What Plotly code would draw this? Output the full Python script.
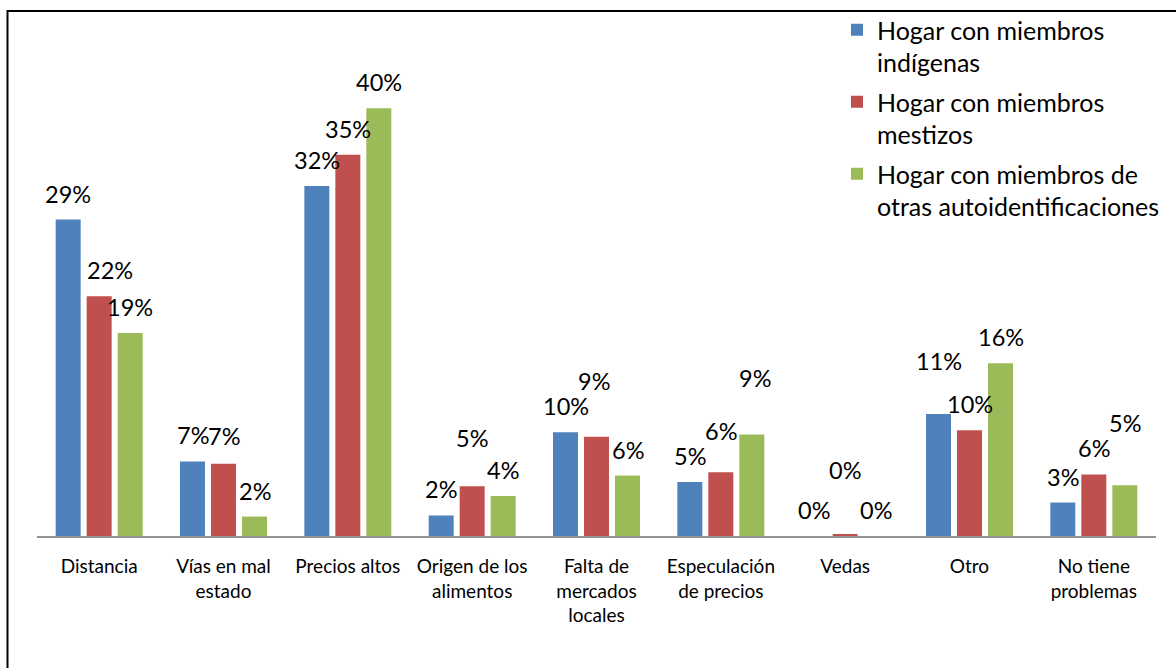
import plotly.graph_objects as go

# Problem categories (x axis)
categorias = [
    "Distancia",
    "Vías en mal<br>estado",
    "Precios altos",
    "Origen de los<br>alimentos",
    "Falta de<br>mercados<br>locales",
    "Especulación<br>de precios",
    "Vedas",
    "Otro",
    "No tiene<br>problemas",
]

# Series names
serie_indigenas = "Hogar con miembros<br>indígenas"
serie_mestizos = "Hogar con miembros<br>mestizos"
serie_otras = "Hogar con miembros de<br>otras autoidentificaciones"

# Percent of households per problem
indigenas = [29.3, 6.9, 32.4, 1.9, 9.6, 5.0, 0.0, 11.3, 3.1]
mestizos = [22.2, 6.7, 35.3, 4.6, 9.2, 5.9, 0.1, 9.8, 5.7]
otras = [18.8, 1.8, 39.6, 3.7, 5.6, 9.4, 0.0, 16.0, 4.7]

# Extra nudges (pixels) for data labels that sit away from their bar
nudge_up = [
    [0, 0, 0, 0, 0, 0, 0, 27, 0],
    [0, 1.5, 0, 22.5, 29.5, 15, 38.5, 0, 0],
    [0, 0, 0, 0, 0, 30, 0, 0, 36.7],
]
nudge_right = [
    [0, 0, 0, 0, 0, 0, 0, 0, 0],
    [10.5, 0, 0, 0, -3, 0, 0, 0, 0],
    [0, 0, 0, 0, 0, 3, 0, 0, 0],
]

colores = ["#4F81BD", "#C0504D", "#9BBB59"]
FONT = "Lato"

series = [(serie_indigenas, indigenas), (serie_mestizos, mestizos), (serie_otras, otras)]

fig = go.Figure()
for i, (nombre, vals) in enumerate(series):
    fig.add_trace(go.Bar(
        x=categorias, y=vals, name=nombre,
        marker=dict(color=colores[i], line=dict(width=0)),
        legendgroup=str(i),
    ))

# Data labels
slot = 31  # px between neighbouring bars in a group
annotations = []
for i, (nombre, vals) in enumerate(series):
    for j, v in enumerate(vals):
        annotations.append(dict(
            x=categorias[j], y=v, xref="x", yref="y",
            text=f"{v:.0f}%", showarrow=False,
            xanchor="center", yanchor="middle",
            xshift=(i - 1) * slot + nudge_right[i][j],
            yshift=26 + nudge_up[i][j],
            font=dict(family=FONT, size=23.5, color="#000000"),
        ))

# Outer frame
shapes = [dict(
    type="rect", xref="paper", yref="paper",
    x0=(7.5 - 37) / 1119, x1=(1190 - 37) / 1119,
    y0=(536 - 690) / 486, y1=(536 - 11) / 486,
    line=dict(color="#000000", width=2), fillcolor="rgba(0,0,0,0)",
    layer="above",
)]

fig.update_layout(
    width=1176, height=668,
    margin=dict(l=37, r=20, t=50, b=132, autoexpand=False),
    paper_bgcolor="white", plot_bgcolor="white",
    barmode="group", bargap=0.252, bargroupgap=0.194,
    font=dict(family=FONT, color="#000000"),
    showlegend=True,
    legend=dict(
        x=(837 - 37) / 1119, y=(536 - 7) / 486,
        xanchor="left", yanchor="top",
        font=dict(family=FONT, size=25, color="#000000"),
        valign="top", tracegroupgap=4,
        bgcolor="rgba(0,0,0,0)",
    ),
    xaxis=dict(
        showline=True, linecolor="#939393", linewidth=2,
        ticks="", showgrid=False, zeroline=False,
        ticklabelstandoff=12, automargin=False,
        tickfont=dict(family=FONT, size=19, color="#000000"),
    ),
    yaxis=dict(
        range=[0, 45], visible=False, showgrid=False, zeroline=False,
    ),
    annotations=annotations,
    shapes=shapes,
)

fig.write_html("out.html")
